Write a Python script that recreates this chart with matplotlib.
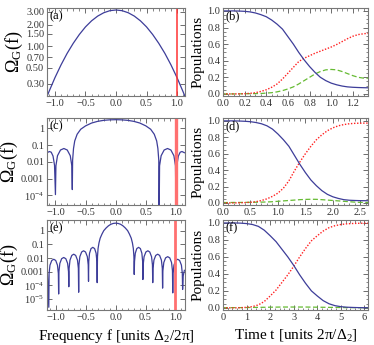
import numpy as np
import matplotlib
matplotlib.use("Agg")
import matplotlib.pyplot as plt
from matplotlib.ticker import FixedLocator, MultipleLocator, NullLocator, FuncFormatter

plt.rcParams['font.family'] = ['Liberation Serif', 'DejaVu Serif']
plt.rcParams['mathtext.fontset'] = 'custom'
plt.rcParams['mathtext.rm'] = 'Liberation Serif'
plt.rcParams['mathtext.it'] = 'Liberation Serif:italic'

# ---------------- data ----------------
f_red = 1.0  # marked transition frequency

# (a) spectrum, Gaussian pulse
f_a = [-1.13, -1.1, -1.0, -0.9, -0.8, -0.7, -0.6, -0.5, -0.4, -0.3, -0.2, -0.1, 0.0,
       0.1, 0.2, 0.3, 0.4, 0.5, 0.6, 0.7, 0.8, 0.9, 1.0, 1.1, 1.13]
om_a = [0.200, 0.231, 0.365, 0.551, 0.797, 1.10, 1.46, 1.86, 2.26, 2.63, 2.93, 3.13, 3.20,
        3.13, 2.93, 2.63, 2.26, 1.86, 1.46, 1.10, 0.797, 0.551, 0.365, 0.231, 0.200]

# (c) spectrum, log10 values
f_c = [-1.14, -1.1, -1.07, -1.04, -1.015, -1.0,
       -0.992, -0.966, -0.916, -0.86, -0.804, -0.754, -0.728, -0.72,
       -0.715, -0.70, -0.68, -0.64, -0.58, -0.5, -0.4, -0.3, -0.2, -0.1, 0.0,
       0.1, 0.2, 0.3, 0.4, 0.5, 0.58, 0.64, 0.68, 0.70, 0.715, 0.72,
       0.728, 0.754, 0.804, 0.86, 0.916, 0.966, 0.992, 1.0,
       1.015, 1.04, 1.07, 1.1, 1.14]
lg_c = [-1.45, -1.38, -1.42, -1.65, -2.2, -3.95,
        -2.23, -1.63, -1.29, -1.2, -1.29, -1.63, -2.23, -3.65,
        -1.9, -1.2, -0.75, -0.35, -0.05, 0.15, 0.32, 0.42, 0.48, 0.51, 0.52,
        0.51, 0.48, 0.42, 0.32, 0.15, -0.05, -0.35, -0.75, -1.2, -1.9, -5.5,
        -2.23, -1.63, -1.29, -1.2, -1.29, -1.63, -2.23, -4.6,
        -2.2, -1.65, -1.42, -1.38, -1.45]

# (e) spectrum, log10 values
f_e = [-1.145, -1.12,
       -1.115, -1.10, -1.07, -1.037, -1.004, -0.975, -0.96, -0.955,
       -0.95, -0.935, -0.905, -0.87, -0.835, -0.805, -0.79, -0.785,
       -0.78, -0.765, -0.735, -0.703, -0.67, -0.64, -0.625, -0.62,
       -0.615, -0.6, -0.57, -0.538, -0.505, -0.475, -0.46, -0.455,
       -0.451, -0.438, -0.413, -0.383, -0.353, -0.328, -0.315, -0.31,
       -0.305, -0.295, -0.28, -0.26, -0.23, -0.2, -0.16, -0.12, -0.08, -0.04, 0.0,
       0.04, 0.08, 0.12, 0.16, 0.2, 0.23, 0.26, 0.28, 0.295, 0.305, 0.31,
       0.315, 0.328, 0.353, 0.383, 0.413, 0.438, 0.451, 0.455,
       0.46, 0.475, 0.505, 0.538, 0.57, 0.6, 0.615, 0.62,
       0.625, 0.64, 0.67, 0.703, 0.735, 0.765, 0.78, 0.785,
       0.79, 0.805, 0.835, 0.87, 0.905, 0.935, 0.95, 0.955,
       0.96, 0.975, 1.004, 1.037, 1.07, 1.10, 1.115, 1.12,
       1.13, 1.15]
lg_e = [-2.9, -5.6,
        -3.12, -2.52, -2.18, -2.09, -2.18, -2.52, -3.12, -4.63,
        -2.99, -2.39, -2.05, -1.96, -2.05, -2.39, -2.99, -4.1,
        -2.75, -2.15, -1.81, -1.72, -1.81, -2.15, -2.75, -4.5,
        -2.5, -1.9, -1.56, -1.47, -1.56, -1.9, -2.5, -3.7,
        -2.25, -1.65, -1.31, -1.22, -1.31, -1.65, -2.25, -3.8,
        -1.9, -1.3, -0.9, -0.55, -0.25, 0.0, 0.2, 0.36, 0.47, 0.53, 0.55,
        0.53, 0.47, 0.36, 0.2, 0.0, -0.25, -0.55, -0.9, -1.3, -1.9, -3.2,
        -2.25, -1.65, -1.31, -1.22, -1.31, -1.65, -2.25, -3.57,
        -2.5, -1.9, -1.56, -1.47, -1.56, -1.9, -2.5, -3.8,
        -2.75, -2.15, -1.81, -1.72, -1.81, -2.15, -2.75, -4.2,
        -2.93, -2.33, -1.99, -1.9, -1.99, -2.33, -2.93, -4.55,
        -3.12, -2.52, -2.18, -2.09, -2.18, -2.52, -3.12, -4.3,
        -3.3, -2.9]

# (b) populations
t_b = [0, 0.05, 0.1, 0.15, 0.2, 0.25, 0.3, 0.35, 0.4, 0.45, 0.5, 0.55, 0.6, 0.65, 0.7,
       0.75, 0.8, 0.85, 0.9, 0.95, 1.0, 1.05, 1.1, 1.15, 1.2, 1.25, 1.3, 1.34]
p1_b = [1.0, 1.0, 1.0, 0.998, 0.995, 0.988, 0.975, 0.955, 0.93, 0.89, 0.84, 0.78, 0.69, 0.6, 0.5,
        0.41, 0.33, 0.26, 0.2, 0.16, 0.13, 0.11, 0.095, 0.085, 0.08, 0.077, 0.075, 0.074]
p2_b = [0.0, 0.0, 0.0, 0.001, 0.003, 0.007, 0.015, 0.03, 0.05, 0.08, 0.12, 0.18, 0.25, 0.32, 0.39,
        0.43, 0.46, 0.49, 0.515, 0.54, 0.565, 0.595, 0.63, 0.665, 0.695, 0.715, 0.725, 0.73]
p3_b = [0.0, 0.0, 0.0, 0.001, 0.002, 0.003, 0.004, 0.005, 0.01, 0.015, 0.025, 0.04, 0.06, 0.085, 0.12,
        0.16, 0.2, 0.24, 0.27, 0.29, 0.295, 0.29, 0.27, 0.245, 0.22, 0.2, 0.19, 0.19]

# (d) populations
t_d = [0, 0.1, 0.2, 0.3, 0.4, 0.5, 0.6, 0.7, 0.8, 0.9, 1.0, 1.1, 1.2, 1.3, 1.4,
       1.5, 1.6, 1.7, 1.8, 1.9, 2.0, 2.1, 2.2, 2.3, 2.4, 2.5, 2.64]
p1_d = [1.0, 1.0, 1.0, 0.998, 0.995, 0.99, 0.98, 0.965, 0.94, 0.9, 0.84, 0.77, 0.69, 0.58, 0.47,
        0.37, 0.28, 0.21, 0.15, 0.105, 0.075, 0.055, 0.04, 0.033, 0.03, 0.028, 0.027]
p2_d = [0.0, 0.0, 0.0, 0.002, 0.004, 0.008, 0.015, 0.03, 0.05, 0.08, 0.12, 0.18, 0.27, 0.39, 0.5,
        0.6, 0.69, 0.77, 0.83, 0.88, 0.915, 0.94, 0.955, 0.965, 0.97, 0.972, 0.973]
p3_d = [0.005, 0.005, 0.006, 0.006, 0.007, 0.008, 0.009, 0.01, 0.012, 0.015, 0.02, 0.025, 0.03, 0.035, 0.04,
        0.043, 0.045, 0.044, 0.04, 0.035, 0.03, 0.025, 0.02, 0.015, 0.01, 0.007, 0.005]

# (f) populations
t_f = [0, 0.25, 0.5, 0.75, 1.0, 1.25, 1.5, 1.75, 2.0, 2.25, 2.5, 2.75, 3.0, 3.25, 3.5,
       3.75, 4.0, 4.25, 4.5, 4.75, 5.0, 5.25, 5.5, 5.75, 6.0, 6.15]
p1_f = [1.0, 1.0, 1.0, 0.998, 0.993, 0.982, 0.96, 0.915, 0.85, 0.78, 0.69, 0.6, 0.5, 0.39, 0.29,
        0.2, 0.14, 0.085, 0.048, 0.026, 0.014, 0.008, 0.005, 0.003, 0.002, 0.002]
p2_f = [0.0, 0.0, 0.0, 0.002, 0.006, 0.015, 0.035, 0.075, 0.14, 0.21, 0.3, 0.39, 0.49, 0.6, 0.7,
        0.79, 0.85, 0.905, 0.945, 0.968, 0.982, 0.99, 0.994, 0.996, 0.997, 0.997]
p3_f = [0.002, 0.002, 0.003, 0.003, 0.004, 0.005, 0.006, 0.007, 0.008, 0.009, 0.01, 0.01, 0.01, 0.01, 0.01,
        0.009, 0.008, 0.007, 0.006, 0.005, 0.004, 0.003, 0.003, 0.002, 0.002, 0.002]

# ---------------- figure ----------------
W, H = 374, 345
fig = plt.figure(figsize=(W / 100, H / 100), dpi=100)

def rect(x0, x1, y0, y1):
    return [x0 / W, 1 - y1 / H, (x1 - x0) / W, (y1 - y0) / H]

rows = [(8, 96), (118, 205), (220, 310)]
lcol = (47, 185)
rcol = (223, 368)

BLUE = '#3d3d99'
RED = '#ff2020'
GREEN = '#66bb33'
FRAME = '#777777'

def minus(fmt):
    return FuncFormatter(lambda v, p: (fmt % v).replace('-', '\u2212'))

def style(ax):
    for s in ax.spines.values():
        s.set_color(FRAME)
        s.set_linewidth(0.8)
    ax.tick_params(which='both', direction='in', top=True, right=True,
                   colors='#555555', labelcolor='#333333', labelsize=7.5, pad=2)
    ax.tick_params(which='major', length=3.5, width=0.6)
    ax.tick_params(which='minor', length=1.8, width=0.5)

def tag(ax, s):
    ax.text(0.015, 0.975, s, transform=ax.transAxes, ha='left', va='top', fontsize=9)

# left column: spectra
axa = fig.add_axes(rect(*lcol, *rows[0]))
axc = fig.add_axes(rect(*lcol, *rows[1]))
axe = fig.add_axes(rect(*lcol, *rows[2]))

axa.plot(f_a, om_a, color=BLUE, lw=0.9)
axa.axvline(f_red, color='#ff3333', lw=1.1)
axa.set_yscale('log')
axa.set_ylim(0.203, 3.41)
axa.set_xlim(-1.13, 1.13)
axa.yaxis.set_major_locator(FixedLocator([0.3, 0.5, 0.7, 1.0, 1.5, 2.0, 3.0]))
axa.yaxis.set_major_formatter(FuncFormatter(lambda v, p: '%.2f' % v))
axa.yaxis.set_minor_locator(NullLocator())
tag(axa, '(a)')

axc.plot(f_c, np.power(10.0, lg_c), color=BLUE, lw=0.9)
axc.axvline(f_red, color='#ff7070', lw=2.4)
axc.set_yscale('log')
axc.set_ylim(10 ** -4.57, 10 ** 0.62)
axc.set_xlim(-1.14, 1.15)
axc.yaxis.set_major_locator(FixedLocator([1e-4, 1e-3, 1e-2, 1e-1, 1]))
axc.yaxis.set_major_formatter(FuncFormatter(
    lambda v, p: {1: '1', 0.1: '0.1', 0.01: '0.01', 0.001: '0.001'}.get(round(v, 6), r'$10^{-4}$')))
axc.yaxis.set_minor_locator(NullLocator())
tag(axc, '(c)')

axe.plot(f_e, np.power(10.0, lg_e), color=BLUE, lw=0.9)
axe.axvline(f_red, color='#ff7070', lw=2.0)
axe.set_yscale('log')
axe.set_ylim(10 ** -5.8, 10 ** 0.78)
axe.set_xlim(-1.15, 1.16)
axe.yaxis.set_major_locator(FixedLocator([1e-5, 1e-4, 1e-3, 1e-2, 1e-1, 1]))
axe.yaxis.set_major_formatter(FuncFormatter(
    lambda v, p: {1: '1', 0.1: '0.1', 0.01: '0.01', 0.001: '0.001', 0.0001: r'$10^{-4}$'}.get(round(v, 8), r'$10^{-5}$')))
axe.yaxis.set_minor_locator(NullLocator())
tag(axe, '(e)')

for ax in (axa, axc, axe):
    ax.xaxis.set_major_locator(MultipleLocator(0.5))
    ax.xaxis.set_minor_locator(MultipleLocator(0.1))
    ax.xaxis.set_major_formatter(minus('%.1f'))
    ax.set_ylabel(r'$\Omega_\mathrm{G}(\mathrm{f})$', fontsize=13, labelpad=1)
    style(ax)
axe.set_xlabel('Frequency f [units \u0394$_2$/2\u03c0]', fontsize=11, labelpad=4)

# right column: populations
axb = fig.add_axes(rect(*rcol, *rows[0]))
axd = fig.add_axes(rect(*rcol, *rows[1]))
axf = fig.add_axes(rect(*rcol, *rows[2]))

for ax, t, p1, p2, p3, s in ((axb, t_b, p1_b, p2_b, p3_b, '(b)'),
                             (axd, t_d, p1_d, p2_d, p3_d, '(d)'),
                             (axf, t_f, p1_f, p2_f, p3_f, '(f)')):
    ax.plot(t, p3, color=GREEN, lw=0.9, ls=(0, (4, 2)))
    ax.plot(t, p2, color=RED, lw=1.0, ls=(0, (1, 1.2)))
    ax.plot(t, p1, color=BLUE, lw=0.9)
    ax.set_xlim(0, t[-1])
    ax.set_ylim(-0.025, 1.035)
    ax.yaxis.set_major_locator(MultipleLocator(0.2))
    ax.yaxis.set_minor_locator(MultipleLocator(0.05))
    ax.yaxis.set_major_formatter(minus('%.1f'))
    ax.set_ylabel('Populations', fontsize=11, labelpad=2)
    style(ax)
    tag(ax, s)

axb.xaxis.set_major_locator(MultipleLocator(0.2))
axb.xaxis.set_minor_locator(MultipleLocator(0.05))
axb.xaxis.set_major_formatter(minus('%.1f'))
axd.xaxis.set_major_locator(MultipleLocator(0.5))
axd.xaxis.set_minor_locator(MultipleLocator(0.1))
axd.xaxis.set_major_formatter(minus('%.1f'))
axf.xaxis.set_major_locator(MultipleLocator(1))
axf.xaxis.set_minor_locator(MultipleLocator(0.2))
axf.xaxis.set_major_formatter(minus('%d'))
axf.set_xlabel('Time t [units 2\u03c0/\u0394$_2$]', fontsize=11, labelpad=4)

fig.savefig('out.png', dpi=100)
